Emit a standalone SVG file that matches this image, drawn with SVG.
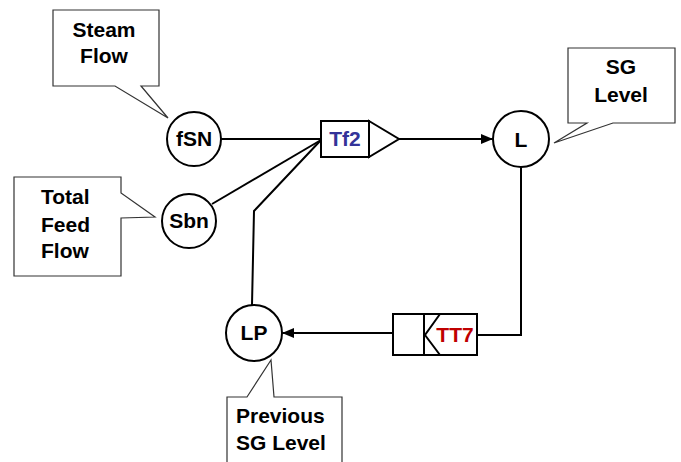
<svg xmlns="http://www.w3.org/2000/svg" width="681" height="462" viewBox="0 0 681 462">
<defs>
<style>
.node{fill:#fff;stroke:#000;stroke-width:2}
.call{fill:#fff;stroke:#333;stroke-width:1.2}
.lbl{font-family:"Liberation Sans",Arial,sans-serif;font-weight:bold;font-size:21px;fill:#000}
.mid{text-anchor:middle}
.conn{fill:none;stroke:#000;stroke-width:2}
</style>
<marker id="arr" viewBox="0 0 12 10" refX="12" refY="5" markerWidth="12" markerHeight="10" markerUnits="userSpaceOnUse" orient="auto">
<path d="M0,0 L12,5 L0,10 Z" fill="#000"/>
</marker>
</defs>
<g id="callout-steam">
<path class="call" d="M53,10 H159 V86 H141 L168,118 L115,86 H53 Z"/>
<text class="lbl mid" x="104" y="37">Steam</text>
<text class="lbl mid" x="104" y="63">Flow</text>
</g>
<g id="callout-sglevel">
<path class="call" d="M568,48 H675 V123 H613 L554,143 L587,123 H568 Z"/>
<text class="lbl mid" x="621" y="74">SG</text>
<text class="lbl mid" x="621" y="102">Level</text>
</g>
<g id="callout-feed">
<path class="call" d="M14,177 H121 V193 L155,217 L121,218 V276 H14 Z"/>
<text class="lbl" x="41" y="204">Total</text>
<text class="lbl" x="41" y="232">Feed</text>
<text class="lbl" x="41" y="258">Flow</text>
</g>
<g id="callout-prev">
<path class="call" d="M227,470 V397 H247 L271,360 L274,397 H342 V470"/>
<text class="lbl" x="236" y="423">Previous</text>
<text class="lbl" x="236" y="450">SG Level</text>
</g>
<g id="connectors">
<line class="conn" x1="221" y1="139" x2="321" y2="139"/>
<line class="conn" x1="212" y1="204" x2="321" y2="140"/>
<polyline class="conn" points="321,140 254,211 252,305"/>
<line class="conn" x1="399" y1="139" x2="493" y2="139" marker-end="url(#arr)"/>
<polyline class="conn" points="477,335 521,335 521,167"/>
<line class="conn" x1="393" y1="333" x2="282" y2="333" marker-end="url(#arr)"/>
</g>
<g id="node-fSN">
<circle class="node" cx="194" cy="139" r="27"/>
<text class="lbl mid" x="194" y="146">fSN</text>
</g>
<g id="node-Sbn">
<circle class="node" cx="189" cy="221" r="27"/>
<text class="lbl mid" x="189" y="228">Sbn</text>
</g>
<g id="node-L">
<circle class="node" cx="521" cy="139" r="28"/>
<text class="lbl mid" x="521" y="147">L</text>
</g>
<g id="node-LP">
<circle class="node" cx="254" cy="333" r="28"/>
<text class="lbl mid" x="254" y="340">LP</text>
</g>
<g id="node-Tf2">
<rect class="node" x="321" y="121" width="48" height="36"/>
<path class="node" d="M369,121 L399,139 L369,157 Z"/>
<text class="lbl mid" x="345" y="146" style="fill:#333399">Tf2</text>
</g>
<g id="node-TT7">
<rect class="node" x="393" y="314" width="84" height="41"/>
<line class="conn" x1="424" y1="314" x2="424" y2="355"/>
<polyline class="conn" points="440,314 425,335 440,355"/>
<text class="lbl mid" x="455" y="342" style="fill:#c00000">TT7</text>
</g>
</svg>
